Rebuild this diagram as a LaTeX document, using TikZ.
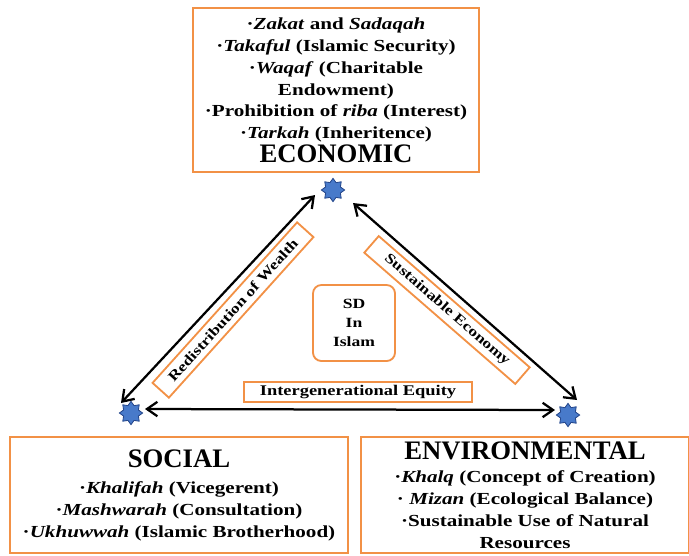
\documentclass[tikz,border=0pt]{standalone}
\usepackage{fontspec}
\setmainfont[FakeStretch=1.25]{Liberation Serif}
\newfontfamily\headfont{Liberation Serif}
\usepackage{xcolor}
\usetikzlibrary{shapes.geometric,arrows.meta}
\definecolor{boxorange}{RGB}{242,145,70}
\definecolor{starblue}{RGB}{72,122,202}
\definecolor{stardark}{RGB}{38,72,140}

\begin{document}
\begin{tikzpicture}[x=0.025cm,y=-0.025cm,
    pillar/.style={draw=boxorange, line width=1.4pt, align=center, inner sep=0pt,
        font=\bfseries\fontsize{12}{15.6}\selectfont},
    head/.style={font=\headfont\bfseries\fontsize{19}{19}\selectfont},
    tag/.style={draw=boxorange, line width=1.3pt, fill=white, inner sep=0pt,
        font=\bfseries\fontsize{10}{12}\selectfont},
    hub/.style={star, star points=8, star point ratio=1.45, minimum size=0.58cm,
        inner sep=0pt, fill=starblue, draw=stardark, line width=0.6pt},
    link/.style={line width=1.6pt, {Straight Barb[length=2.6mm,width=3.6mm]}-{Straight Barb[length=2.6mm,width=3.6mm]}}
]
    \useasboundingbox (0,0) rectangle (689,555);

    % Pillars
    \node[pillar, minimum width=7.15cm, minimum height=4.1cm] (econ) at (336,90)
        {·\textit{Zakat} and \textit{Sadaqah}\\
         ·\textit{Takaful} (Islamic Security)\\
         ·\textit{Waqaf} (Charitable\\
         Endowment)\\
         ·Prohibition of \textit{riba} (Interest)\\
         ·\textit{Tarkah} (Inheritence)\\[1pt]
         {\headfont\fontsize{19}{19}\selectfont ECONOMIC}};
    \node[pillar, minimum width=8.45cm, minimum height=2.9cm] (social) at (179,495)
        {{\headfont\fontsize{19}{19}\selectfont SOCIAL}\\[3pt]
         ·\textit{Khalifah} (Vicegerent)\\
         ·\textit{Mashwarah} (Consultation)\\
         ·\textit{Ukhuwwah} (Islamic Brotherhood)};
    \node[pillar, minimum width=8.2cm, minimum height=2.9cm] (envir) at (525,495)
        {{\headfont\fontsize{19}{19}\selectfont ENVIRONMENTAL}\\[1pt]
         ·\textit{Khalq} (Concept of Creation)\\
         · \textit{Mizan} (Ecological Balance)\\
         ·Sustainable Use of Natural\\
         Resources};

    % Hubs
    \node[hub] (hubE) at (333,190) {};
    \node[hub] (hubS) at (131,413) {};
    \node[hub] (hubV) at (568,415) {};

    % Links
    \draw[link] ([shift={(-18,5)}]hubE.center) -- ([shift={(-10,-10)}]hubS.center);
    \draw[link] ([shift={(20,13)}]hubE.center) -- ([shift={(9,-15)}]hubV.center);
    \draw[link] ([shift={(14,-4)}]hubS.center) -- ([shift={(-13,-5)}]hubV.center);

    % Labels
    \node[tag, rotate=48, minimum width=5.4cm, minimum height=0.55cm] (redis) at (233,310)
        {Redistribution of Wealth};
    \node[tag, rotate=-41, minimum width=5cm, minimum height=0.55cm] (sustain) at (447,310)
        {Sustainable Economy};
    \node[tag, font=\bfseries\fontsize{10.5}{12}\selectfont, minimum width=5.7cm,
        minimum height=0.5cm] (equity) at (358,392)
        {Intergenerational Equity};
    \node[draw=boxorange, line width=1.3pt, rounded corners=6pt, align=center,
        minimum width=2.05cm, minimum height=1.9cm, inner sep=0pt,
        font=\bfseries\fontsize{10}{13.5}\selectfont] (sd) at (354,323)
        {SD\\In\\Islam};
\end{tikzpicture}
\end{document}
